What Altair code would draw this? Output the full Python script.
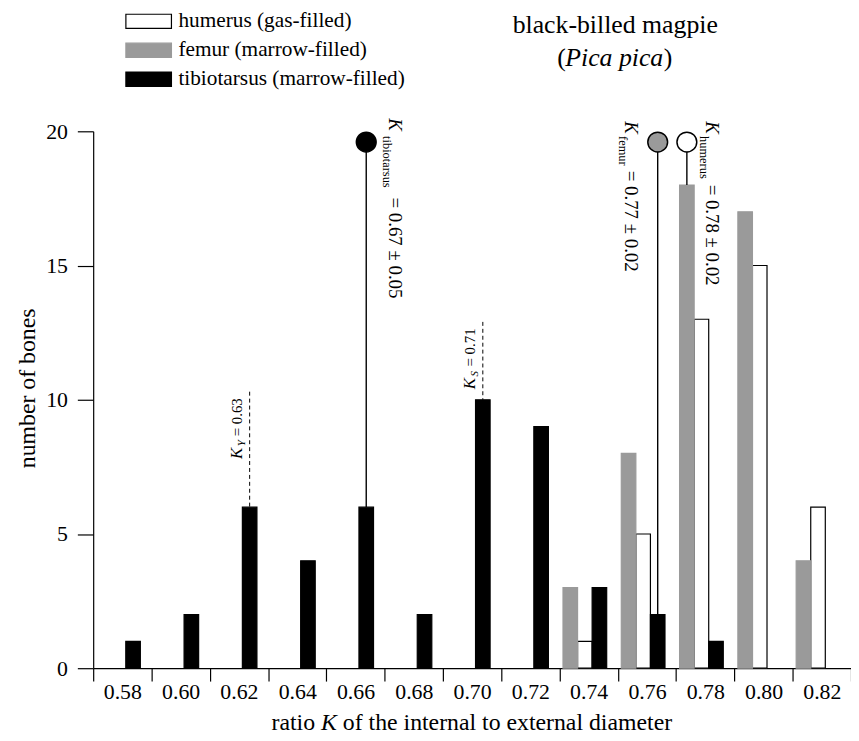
import altair as alt
import pandas as pd

# ---------------- data ----------------
bins = ["0.58", "0.60", "0.62", "0.64", "0.66", "0.68", "0.70",
        "0.72", "0.74", "0.76", "0.78", "0.80", "0.82"]
humerus_counts = [0, 0, 0, 0, 0, 0, 0, 0, 1, 5, 13, 15, 6]
femur_counts = [0, 0, 0, 0, 0, 0, 0, 0, 3, 8, 18, 17, 4]
tibiotarsus_counts = [1, 2, 6, 4, 6, 2, 10, 9, 3, 2, 1, 0, 0]

series_names = ["humerus (gas-filled)", "femur (marrow-filled)", "tibiotarsus (marrow-filled)"]
series_fill = ["white", "#9a9a9a", "black"]
series_stroke = ["black", "#9a9a9a", "black"]
bar_order = [series_names[1], series_names[0], series_names[2]]

y_ticks = [0, 5, 10, 15, 20]

# mean ratio K (± SD) for each bone
k_bones = ["tibiotarsus", "femur", "humerus"]
k_means = ["0.67", "0.77", "0.78"]
k_sds = ["0.05", "0.02", "0.02"]
k_bins = ["0.66", "0.76", "0.78"]
k_anchor_series = [series_names[2], series_names[2], series_names[1]]
k_marker_level = 19.6

# reference ratios K_Y and K_S
ref_subs = ["Y", "S"]
ref_values = ["0.63", "0.71"]
ref_bins = ["0.62", "0.70"]
ref_tops = [10.3, 12.9]

title_line1 = "black-billed magpie"
title_line2 = "Pica pica"
x_title_parts = ["ratio", "K", "of the internal to external diameter"]
y_title = "number of bones"

FONT = "Liberation Serif"

counts = {series_names[0]: humerus_counts,
          series_names[1]: femur_counts,
          series_names[2]: tibiotarsus_counts}


def count_at(b, s):
    return counts[s][bins.index(b)]


rows = []
for s in series_names:
    for b, c in zip(bins, counts[s]):
        if c > 0:
            rows.append({"bin": b, "series": s, "count": c})
bars_df = pd.DataFrame(rows)

# ---------------- shared encodings ----------------
x_axis = alt.Axis(tickBand="extent", tickSize=13, labelFontSize=22, labelPadding=1,
                  labelAngle=0, domainWidth=1.2, tickWidth=1.2, grid=False,
                  labelFont=FONT)
y_axis = alt.Axis(values=y_ticks, tickSize=16, labelPadding=10, labelFontSize=22,
                  titleFontSize=24, titlePadding=6, titleFontWeight="normal",
                  titleY=259, grid=False, domainWidth=1.2, tickWidth=1.2,
                  labelFont=FONT, titleFont=FONT)


def X():
    return alt.X("bin:O", sort=bins,
                 scale=alt.Scale(domain=bins, paddingInner=0, paddingOuter=0),
                 axis=x_axis, title=None)


def XO(bp=None):
    kw = {}
    if bp is not None:
        kw["bandPosition"] = bp
    return alt.XOffset("series:N", sort=bar_order,
                       scale=alt.Scale(domain=bar_order, paddingInner=0,
                                       paddingOuter=0, range=[3.5, 47.6]), **kw)


def Y(field):
    return alt.Y(f"{field}:Q", scale=alt.Scale(domain=[0, 20], nice=False),
                 axis=y_axis, title=y_title)


legend = alt.Legend(title=None, orient="none", legendX=41, legendY=-126,
                    symbolType="M-1.6,-0.5H1.6V0.5H-1.6Z", symbolSize=826,
                    symbolStrokeWidth=1.2, symbolOpacity=1,
                    labelFont=FONT, labelFontSize=21.5, labelColor="black",
                    labelLimit=0, labelOffset=15, rowPadding=3.2, padding=0)

bars = alt.Chart(bars_df).mark_bar(strokeWidth=1.2).encode(
    x=X(), xOffset=XO(), y=Y("count"),
    fill=alt.Fill("series:N", scale=alt.Scale(domain=series_names, range=series_fill),
                  legend=legend),
    stroke=alt.Stroke("series:N", scale=alt.Scale(domain=series_names, range=series_stroke),
                      legend=legend),
)

layers = [bars]

# ---------------- mean K markers ----------------
marker_fill = {"tibiotarsus": "black", "femur": "#9a9a9a", "humerus": "white"}
label_style = {
    "tibiotarsus": dict(bp=0.5, k_dx=-24, sub_dx=-6, eq_dx=56, base_dy=-23.3),
    "femur": dict(bp=0.25, k_dx=-21, sub_dx=-6, eq_dx=29, base_dy=33.2),
    "humerus": dict(bp=0.67, k_dx=-21, sub_dx=-6, eq_dx=43, base_dy=-19.1),
}

for bone, m, sd, b, s in zip(k_bones, k_means, k_sds, k_bins, k_anchor_series):
    df = pd.DataFrame([dict(bin=b, series=s, level=k_marker_level,
                            bottom=count_at(b, s), k="K", sub=bone,
                            eq=f"= {m} ± {sd}")])
    st = label_style[bone]
    bp = st["bp"]
    base = alt.Chart(df)
    layers.append(base.mark_rule(color="black", strokeWidth=1.4).encode(
        x=X(), xOffset=XO(bp), y=Y("level"), y2="bottom:Q"))
    layers.append(base.mark_circle(size=400, color=marker_fill[bone], stroke="black",
                                   strokeWidth=1.5, opacity=1).encode(
        x=X(), xOffset=XO(bp), y=Y("level")))
    layers.append(base.mark_text(angle=90, align="left", baseline="alphabetic",
                                 dx=st["k_dx"], dy=st["base_dy"], font=FONT,
                                 fontSize=19, fontStyle="italic", color="black").encode(
        x=X(), xOffset=XO(bp), y=Y("level"), text="k:N"))
    layers.append(base.mark_text(angle=90, align="left", baseline="alphabetic",
                                 dx=st["sub_dx"], dy=st["base_dy"] + 6, font=FONT,
                                 fontSize=12.5, color="black").encode(
        x=X(), xOffset=XO(bp), y=Y("level"), text="sub:N"))
    layers.append(base.mark_text(angle=90, align="left", baseline="alphabetic",
                                 dx=st["eq_dx"], dy=st["base_dy"], font=FONT,
                                 fontSize=19, color="black").encode(
        x=X(), xOffset=XO(bp), y=Y("level"), text="eq:N"))

# ---------------- reference ratios K_Y, K_S ----------------
ref_df = pd.DataFrame([dict(bin=b, series=series_names[2], top=t,
                            bottom=count_at(b, series_names[2]), k="K", sub=sname,
                            eq=f"= {v}")
                       for sname, v, b, t in zip(ref_subs, ref_values, ref_bins, ref_tops)])
rbase = alt.Chart(ref_df)
rbp = 0.7
layers.append(rbase.mark_rule(color="black", strokeWidth=1, strokeDash=[4, 3]).encode(
    x=X(), xOffset=XO(rbp), y=Y("top"), y2="bottom:Q"))
layers.append(rbase.mark_text(angle=270, align="left", baseline="alphabetic", dx=-68, dy=-8,
                              font=FONT, fontSize=17, fontStyle="italic", color="black").encode(
    x=X(), xOffset=XO(rbp), y=Y("top"), text="k:N"))
layers.append(rbase.mark_text(angle=270, align="left", baseline="alphabetic", dx=-55, dy=-5,
                              font=FONT, fontSize=11, fontStyle="italic", color="black").encode(
    x=X(), xOffset=XO(rbp), y=Y("top"), text="sub:N"))
layers.append(rbase.mark_text(angle=270, align="left", baseline="alphabetic", dx=-45, dy=-8,
                              font=FONT, fontSize=15, color="black").encode(
    x=X(), xOffset=XO(rbp), y=Y("top"), text="eq:N"))

# ---------------- titles ----------------
one = pd.DataFrame({"t": [title_line1]})
layers.append(alt.Chart(one).mark_text(font=FONT, fontSize=26, align="center",
                                       baseline="alphabetic", color="black").encode(
    x=alt.value(527), y=alt.value(-99), text=alt.value(title_line1)))
layers.append(alt.Chart(one).mark_text(font=FONT, fontSize=26, align="right",
                                       baseline="alphabetic", color="black").encode(
    x=alt.value(477), y=alt.value(-66), text=alt.value("(")))
layers.append(alt.Chart(one).mark_text(font=FONT, fontSize=26, fontStyle="italic",
                                       align="center", baseline="alphabetic", color="black").encode(
    x=alt.value(526), y=alt.value(-66), text=alt.value(title_line2)))
layers.append(alt.Chart(one).mark_text(font=FONT, fontSize=26, align="left",
                                       baseline="alphabetic", color="black").encode(
    x=alt.value(576), y=alt.value(-66), text=alt.value(")")))

# x-axis title with italic K
layers.append(alt.Chart(one).mark_text(font=FONT, fontSize=24, align="right",
                                       baseline="alphabetic", color="black").encode(
    x=alt.value(224), y=alt.value(604), text=alt.value(x_title_parts[0])))
layers.append(alt.Chart(one).mark_text(font=FONT, fontSize=24, fontStyle="italic",
                                       align="center", baseline="alphabetic", color="black").encode(
    x=alt.value(238), y=alt.value(604), text=alt.value(x_title_parts[1])))
layers.append(alt.Chart(one).mark_text(font=FONT, fontSize=24, align="left",
                                       baseline="alphabetic", color="black").encode(
    x=alt.value(252), y=alt.value(604), text=alt.value(x_title_parts[2])))

chart = alt.layer(*layers).properties(
    width=765, height=542,
    autosize=alt.AutoSizeParams(type="none"),
    padding={"left": 86, "top": 121, "right": 0, "bottom": 69},
).configure(font=FONT).configure_view(stroke=None).configure_axis(
    domainColor="black", tickColor="black", labelColor="black", titleColor="black",
    labelFont=FONT, titleFont=FONT
).configure_legend(labelFont=FONT, labelLimit=0)

chart.save("out.html", embed_options={"renderer": "svg", "actions": False})
